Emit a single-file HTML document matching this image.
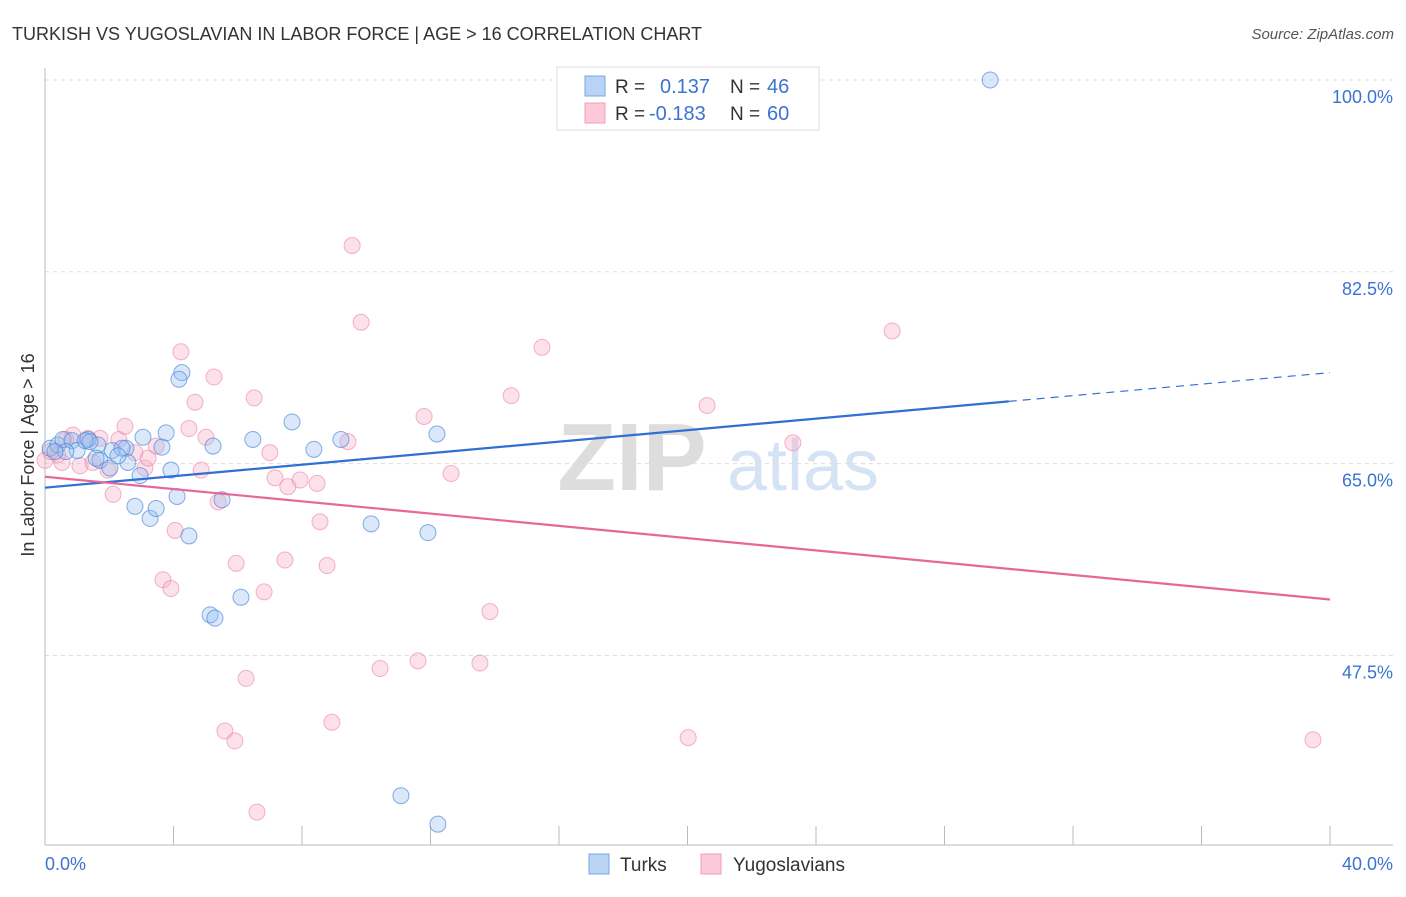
<!DOCTYPE html>
<html><head><meta charset="utf-8"><style>
body{margin:0;background:#fff;font-family:"Liberation Sans",sans-serif;}
svg text{font-family:"Liberation Sans",sans-serif;}
</style></head><body>
<svg id="chart" width="1406" height="892" xmlns="http://www.w3.org/2000/svg">
<text x="12" y="40" font-size="18" fill="#333">TURKISH VS YUGOSLAVIAN IN LABOR FORCE | AGE &gt; 16 CORRELATION CHART</text>
<text x="1394" y="39" font-size="15" fill="#555" font-style="italic" text-anchor="end">Source: ZipAtlas.com</text>
<g>
<text x="632" y="490" font-size="96" font-family="Liberation Serif" fill="#ddd" text-anchor="middle" font-weight="bold">ZIP</text>
<text x="803" y="490" font-size="72" fill="#d6e3f5" text-anchor="middle">atlas</text>
</g>
<g id="grid"></g>
<g id="axes"></g>
<g id="marks"></g>
<text transform="translate(34,455) rotate(-90)" font-size="18" fill="#333" text-anchor="middle">In Labor Force | Age &gt; 16</text>
<g>
<rect x="557" y="67" width="262" height="63" fill="#fff" stroke="#ddd"/>
<rect x="585" y="76" width="20" height="20" fill="#b9d3f5" stroke="#7aa7e0"/>
<rect x="585" y="103" width="20" height="20" fill="#fbc9d8" stroke="#f0a0b8"/>
<text x="615" y="93" font-size="19" fill="#333">R = </text><text x="660" y="93" font-size="20" fill="#3b73d1">0.137</text>
<text x="730" y="93" font-size="19" fill="#333">N = </text><text x="767" y="93" font-size="20" fill="#3b73d1">46</text>
<text x="615" y="120" font-size="19" fill="#333">R = </text><text x="649" y="120" font-size="20" fill="#3b73d1">-0.183</text>
<text x="730" y="120" font-size="19" fill="#333">N = </text><text x="767" y="120" font-size="20" fill="#3b73d1">60</text>
</g>
<g>
<rect x="589" y="854" width="20" height="20" fill="#b9d3f5" stroke="#7aa7e0"/>
<text x="620" y="871" font-size="19" fill="#333">Turks</text>
<rect x="701" y="854" width="20" height="20" fill="#fbc9d8" stroke="#f0a0b8"/>
<text x="733" y="871" font-size="19" fill="#333">Yugoslavians</text>
</g>
</svg>
<script>
const turksX=[29.42,0.16,0.40,0.56,0.84,1.34,1.00,1.65,2.09,1.71,2.02,2.52,2.40,2.58,3.05,2.96,3.77,3.92,3.64,4.11,4.26,4.17,5.23,6.47,7.69,8.37,9.21,12.20,5.51,2.80,3.27,3.46,4.48,10.15,11.92,6.10,5.14,5.29,11.08,12.23,1.59,2.27,1.25,0.65,1.40,0.31];
const turksY=[100,66.4,66.7,67.2,67.1,67.2,66.2,66.7,66.2,65.3,64.6,66.4,66.4,65.1,67.4,63.9,67.8,64.4,66.5,62.0,73.3,72.7,66.6,67.2,68.8,66.3,67.2,67.7,61.7,61.1,60.0,60.9,58.4,59.5,58.7,52.8,51.2,50.9,34.7,32.1,65.5,65.7,67.1,66.1,67.0,66.1];
const yugoX=[0.0,0.16,0.40,0.53,0.87,1.09,1.49,1.71,1.96,2.12,2.30,2.49,2.80,3.11,3.21,3.46,3.67,3.92,4.05,4.23,4.48,4.67,4.86,5.01,5.26,5.39,5.95,6.26,5.60,5.91,6.51,6.60,6.82,7.00,7.16,7.47,7.56,7.94,8.47,8.56,8.78,8.93,9.43,9.56,9.84,10.43,11.61,11.80,12.64,13.54,13.85,14.51,15.47,20.02,20.61,23.28,26.37,39.47,0.65,1.34];
const yugoY=[65.3,66.1,65.8,65.1,67.6,64.8,65.1,67.3,64.4,62.2,67.2,68.4,66.0,64.6,65.5,66.6,54.4,53.6,58.9,75.2,68.2,70.6,64.4,67.4,72.9,61.5,55.9,45.4,40.6,39.7,71.0,33.2,53.3,66.0,63.7,56.2,62.9,63.5,63.2,59.7,55.7,41.4,67.0,84.9,77.9,46.3,47.0,69.3,64.1,46.8,51.5,71.2,75.6,40.0,70.3,66.9,77.1,39.8,67.2,67.3];
const turksTrend=[62.8,73.3];
const yugoTrend=[63.8,52.6];
const yTicks=[100,82.5,65,47.5];
const xTickLabels=["0.0%","40.0%"];
const NS="http://www.w3.org/2000/svg";
const xs=v=>45+v/40*1285;
const ys=v=>80+(100-v)*10.96;
function mk(tag,attrs,parent){const e=document.createElementNS(NS,tag);for(const k in attrs)e.setAttribute(k,attrs[k]);document.getElementById(parent).appendChild(e);return e;}
yTicks.forEach(t=>{
  const g=mk('line',{x1:45,x2:1393,y1:ys(t),y2:ys(t),stroke:'#ddd','stroke-dasharray':'4,4'},'grid');
  
  
  const l=mk('text',{x:1393,y:ys(t)+23,'font-size':18,fill:'#3b73d1','text-anchor':'end'},'axes');
  l.textContent=(t%1===0?t.toFixed(1):t)+'%';
  
  
});
const ax=mk('line',{x1:45,x2:1393,y1:845,y2:845,stroke:'#bbb'},'axes');


const ay=mk('line',{x1:45,x2:45,y1:68,y2:845,stroke:'#bbb'},'axes');


for(let i=0;i<=10;i++){
  const t=mk('line',{x1:xs(i*4),x2:xs(i*4),y1:826,y2:845,stroke:'#bbb'},'axes');
  
  
}
const xl0=mk('text',{x:45,y:870,'font-size':18,fill:'#3b73d1'},'axes');xl0.textContent=xTickLabels[0];


const xl1=mk('text',{x:1393,y:870,'font-size':18,fill:'#3b73d1','text-anchor':'end'},'axes');xl1.textContent=xTickLabels[1];


yugoX.forEach((x,i)=>{
  const c=mk('circle',{cx:xs(x),cy:ys(yugoY[i]),r:8,fill:'rgba(248,170,195,0.35)',stroke:'rgba(235,130,165,0.6)','stroke-width':1},'marks');
  
  
});
turksX.forEach((x,i)=>{
  const c=mk('circle',{cx:xs(x),cy:ys(turksY[i]),r:8,fill:'rgba(150,190,240,0.35)',stroke:'rgba(70,130,215,0.65)','stroke-width':1},'marks');
  
  
});
const tAt=v=>turksTrend[0]+(turksTrend[1]-turksTrend[0])*v/40;
const l1=mk('line',{x1:xs(0),y1:ys(tAt(0)),x2:xs(30),y2:ys(tAt(30)),stroke:'#2f6fd6','stroke-width':2.2},'marks');


const l2=mk('line',{x1:xs(30),y1:ys(tAt(30)),x2:xs(40),y2:ys(tAt(40)),stroke:'#2f6fd6','stroke-width':1.2,'stroke-dasharray':'8,6'},'marks');


const l3=mk('line',{x1:xs(0),y1:ys(yugoTrend[0]),x2:xs(40),y2:ys(yugoTrend[1]),stroke:'#e8679a','stroke-width':2.2},'marks');


</script>
</body></html>
